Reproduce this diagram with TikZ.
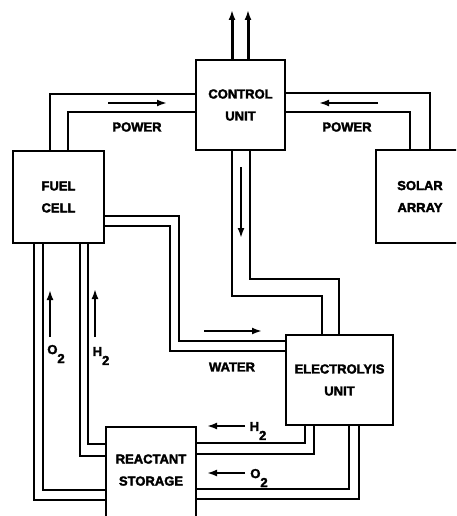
\documentclass[tikz,border=0pt]{standalone}
\usepackage{fontspec}
\setmainfont[BoldFeatures={FakeBold=2.5}]{Liberation Sans}
\usetikzlibrary{arrows.meta,calc}
\newcommand{\gastwo}[1]{#1\raisebox{-9pt}{2}}

\begin{document}
\begin{tikzpicture}[
  x=1pt, y=-1pt,
  line width=2.4pt,
  unitbox/.style={draw, minimum width=#1, align=center, inner sep=0pt,
    font=\fontsize{13}{22}\selectfont\bfseries},
  flowlabel/.style={font=\fontsize{13}{15}\selectfont\bfseries},
  flowarrow/.style={-{Latex[length=10pt,width=7pt]}},
]

%% ── page: 1pt = 1 reference pixel ───────────────────────
\clip (0,0) rectangle (456,516);
\fill[white] (0,0) rectangle (456,516);

%% ── units ────────────────────────────────────────────────
\node[unitbox=89pt, minimum height=90pt]  (control) at (240.5,105) {CONTROL\\UNIT};
\node[unitbox=91pt, minimum height=92pt]  (fuel)    at (58.5,197)  {FUEL\\CELL};
\node[unitbox=88pt, minimum height=93pt]  (solar)   at (420,196.5) {SOLAR\\ARRAY};
\node[unitbox=107pt, minimum height=90pt] (electro) at (339.5,380) {ELECTROLYIS\\UNIT};
\node[unitbox=90pt, minimum height=108pt] (reactant) at (151,481)  {REACTANT\\STORAGE\\~};

%% ── free ends of the outlets, flow arrows ────────────────
\coordinate (outA) at (232,10);
\coordinate (outB) at (248,10);
\foreach \nm/\xa/\ya/\xb/\yb in {
    powerL/108/103/167/103, powerR/378/103/319/103,
    down/241/167/241/238, water/204/331/262/331,
    oxyUp/50/337/50/290, hydUp/95/337/95/289,
    hydIn/245/426/207/426, oxyIn/245/473/207/473}{
  \coordinate (\nm A) at (\xa,\ya);
  \coordinate (\nm B) at (\xb,\yb);
  \draw[flowarrow] (\nm A) -- (\nm B);
}

%% ── outlets on top of the control unit ───────────────────
\draw[flowarrow, line width=3pt] ([xshift=-8.5pt]control.north) -- (outA);
\draw[flowarrow, line width=3pt] ([xshift=7.5pt]control.north)  -- (outB);

%% ── power lines ──────────────────────────────────────────
\draw ([yshift=11pt]control.west) -| ([xshift=-8.5pt]fuel.north);
\draw ([yshift=-7pt]control.west) -| ([xshift=9.5pt]fuel.north);
\draw ([yshift=12pt]control.east) -| ([xshift=10pt]solar.north);
\draw ([yshift=-7pt]control.east) -| ([xshift=-10pt]solar.north);

%% ── control unit to electrolysis unit ────────────────────
\draw ([xshift=-8.5pt]control.south) -- ++(0,145) -| ([xshift=-17.5pt]electro.north);
\draw ([xshift=9.5pt]control.south)  -- ++(0,128) -| ([xshift=-0.5pt]electro.north);

%% ── water ────────────────────────────────────────────────
\draw ([yshift=-19pt]fuel.east) -- ++(74,0) |- ([yshift=39pt]electro.west);
\draw ([yshift=-29pt]fuel.east) -- ++(65,0) |- ([yshift=29pt]electro.west);

%% ── gas lines: fuel cell and electrolysis unit to storage ─
\foreach \xs/\ys in {-24.5/-19, -15.5/-9, 21.5/25, 29.5/37}{
  \draw ([xshift=\xs pt]fuel.south) |- ([yshift=\ys pt]reactant.west);
}
\foreach \xs/\ys in {-34.5/38, -25.5/27, 9.5/-8, 19.5/-18}{
  \draw ([xshift=\xs pt]electro.south) |- ([yshift=\ys pt]reactant.east);
}

%% ── labels ───────────────────────────────────────────────
\node[flowlabel] (powerLlabel) at (137,127) {POWER};
\node[flowlabel] (powerRlabel) at (347,127) {POWER};
\node[flowlabel] (waterlabel)  at (232,367) {WATER};
\node[flowlabel] (oxyUplabel)  at (56,354)  {\gastwo{O}};
\node[flowlabel] (hydUplabel)  at (101,356) {\gastwo{H}};
\node[flowlabel] (hydInlabel)  at (258,431) {\gastwo{H}};
\node[flowlabel] (oxyInlabel)  at (259,478) {\gastwo{O}};

\end{tikzpicture}
\end{document}
